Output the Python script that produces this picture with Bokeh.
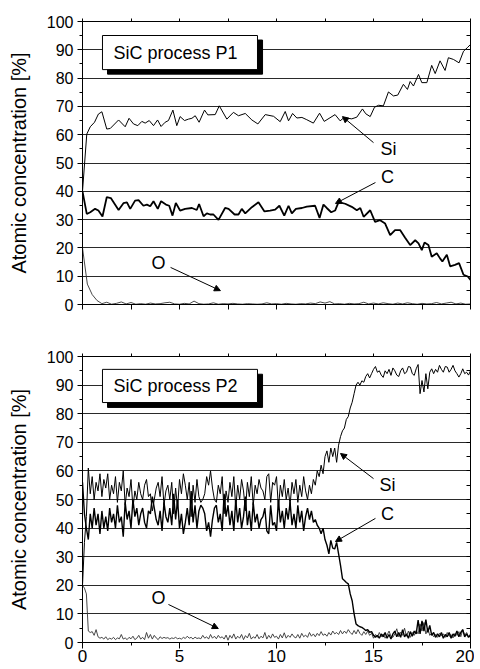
from bokeh.plotting import figure
from bokeh.layouts import column
from bokeh.models import (SingleIntervalTicker, FixedTicker, LinearAxis, Range1d, Label, Arrow,
                          NormalHead, BoxAnnotation, Grid)
from bokeh.embed import file_html
from bokeh.resources import INLINE

FONT = "Liberation Sans"

# ---------------- Panel P1 ----------------
si1_x = [0.0, 0.22, 0.4, 0.62, 0.82, 1.0, 1.25, 1.43, 1.86, 2.2, 2.4, 2.63, 2.85, 3.06, 3.23,
         3.44, 3.66, 3.87, 4.05, 4.26, 4.43, 4.66, 4.86, 5.03, 5.26, 5.46, 5.64, 5.81, 6.01,
         6.29, 6.46, 6.84, 7.05, 7.44, 7.78, 8.04, 8.39, 8.73, 9.04, 9.42, 9.85, 10.19, 10.45,
         10.62, 10.83, 11.05, 11.31, 11.56, 11.9, 12.22, 12.46, 13.02, 13.28, 13.47, 13.88,
         14.14, 14.43, 14.6, 14.83, 15.05, 15.26, 15.51, 15.77, 16.03, 16.25, 16.54, 16.75,
         16.89, 17.06, 17.32, 17.49, 17.75, 18.0, 18.18, 18.43, 18.69, 18.86, 19.12, 19.41,
         19.64, 19.86, 20.0]
si1_y = [40, 60.2, 62.8, 64.4, 67.3, 68.1, 62, 62.2, 65.2, 62.8, 65.8, 63.8, 63.2, 64.7, 64.1,
         65, 63.2, 65.2, 62.9, 64.4, 65, 68.7, 63.2, 66.4, 65, 65.5, 65.8, 66.7, 64.4,
         68.7, 67, 67.1, 70.2, 65.5, 67.9, 66.7, 67.5, 65.2, 63.8, 67.1, 66.5, 64.6, 68.2,
         64.9, 67.5, 65.9, 66.1, 65.3, 64.1, 67.6, 64.7, 67.1, 64.9, 66, 65.6,
         66.2, 69.1, 67.4, 66.4, 69.7, 70.4, 70.2, 75.1, 73.7, 74.0, 77.8, 76.0,
         78.8, 77.2, 81.3, 78.4, 78.4, 84.5, 81.6, 86.1, 82.7, 87.2, 86.6, 85.4,
         89.5, 90.9, 91.9]

c1_x = [0.0, 0.22, 0.4, 0.65, 0.82, 1.03, 1.25, 1.46, 1.86, 2.11, 2.29, 2.46, 2.71, 2.89, 3.14,
        3.32, 3.49, 3.66, 3.88, 4.05, 4.3, 4.47, 4.64, 4.81, 5.03, 5.29, 5.64, 5.89, 6.01,
        6.24, 6.41, 6.58, 6.75, 7.01, 7.35, 7.53, 7.84, 8.04, 8.21, 8.39, 8.73, 9.07, 9.38,
        9.67, 9.93, 10.15, 10.4, 10.62, 10.79, 11.0, 11.31, 11.56, 11.99, 12.22, 12.42,
        12.59, 12.82, 13.02, 13.2, 13.54, 13.88, 14.14, 14.32, 14.49, 14.83, 15.08, 15.34,
        15.6, 15.86, 16.11, 16.37, 16.63, 16.89, 17.15, 17.32, 17.49, 17.63, 17.83, 18.0,
        18.26, 18.43, 18.55, 18.78, 18.95, 19.2, 19.41, 19.64, 19.86, 20.0]
c1_y = [40, 32, 32.6, 33.8, 33.2, 31.1, 37.9, 37.6, 33.4, 35.8, 36.1, 33.8, 36.7, 36.9, 34.9,
        35.3, 34.7, 36.5, 33.8, 36.5, 35.3, 34.9, 31.4, 35.9, 33.2, 33.8, 34.1, 33.4, 35.5,
        31.2, 32.2, 31.8, 31.8, 29.9, 34.1, 33.8, 31.8, 31.8, 33.8, 32.2, 34.4, 36.1, 32.9,
        33.2, 33.5, 34.9, 31.4, 34.9, 32.2, 33.8, 34.1, 34.6, 34.9, 30.6, 35.3,
        34.1, 32.6, 33.2, 36.2, 35.6, 34.5, 33.3, 34.1, 31.0, 33.3, 29.2, 29.8,
        28.6, 24.5, 26.3, 26.3, 23.6, 21.0, 22.7, 21.6, 19.2, 21.9, 21.0, 16.9,
        18.1, 16.3, 15.2, 17.6, 13.5, 14.0, 14.6, 10.5, 9.9, 8.7]

o1_x = [i * 0.25 for i in range(81)]
o1_y = [20, 7.2, 3.5, 1.4, 0.3, 0.8, 0.1, 0.4,
        0.9, 0.2, 0.7, 0.1, 0.3, 0.1, 0.5, 0.2,
        0.3, 0.6, 0.8, 0.2, 0.1, 0.4, 0.2, 1.2,
        0.3, 0.1, 0.2, 0.6, 0.1, 0.3, 0.2, 0.4,
        0.2, 0.1, 0.3, 0.2, 0.1, 0.2, 0.6, 0.2,
        0.3, 0.1, 0.4, 0.2, 0.1, 0.3, 0.2, 0.5,
        0.3, 0.9, 0.5, 1.0, 0.2, 0.3, 0.1, 0.4,
        0.2, 0.3, 0.8, 0.2, 0.5, 0.2, 0.6, 0.3,
        0.1, 0.5, 0.2, 0.6, 0.3, 0.1, 0.4, 0.2,
        0.3, 0.7, 0.2, 0.5, 0.8, 0.2, 0.5, 0.1,
        0.2]

# ---------------- Panel P2 ----------------
p2_x = [round(i * 0.1, 1) for i in range(201)]
si2_y = [20, 35, 44, 61, 52, 58, 50, 56, 53, 59,
         51, 57, 54, 59, 50, 55, 52, 58, 49, 56,
         53, 60, 48, 54, 51, 57, 47, 53, 50, 56,
         52, 50, 55, 57, 51, 52, 46, 50, 54, 56,
         51, 58, 48, 53, 55, 50, 56, 45, 54, 47,
         57, 52, 59, 55, 50, 56, 44, 55, 49, 57,
         51, 49, 50, 52, 58, 55, 60, 54, 50, 49,
         55, 52, 58, 45, 53, 49, 56, 51, 58, 47,
         55, 50, 57, 53, 46, 56, 51, 58, 48, 55,
         52, 57, 54, 53, 50, 58, 59, 49, 56, 55,
         58, 47, 55, 51, 57, 50, 54, 48, 56, 52,
         57, 49, 55, 51, 58, 53, 50, 55, 52, 57,
         55, 60, 58, 62, 59, 65, 67, 63, 68, 65,
         68, 63, 69, 72, 74, 75, 78, 79, 82, 84,
         87, 90, 91, 90, 91.5, 91, 93, 94, 92.5, 94,
         95.5, 96.5, 94.5, 95, 93.5, 92.7, 95, 94, 95.5, 93.4,
         96, 95, 93.5, 93, 95, 96, 94, 94.5, 96.5, 96.3,
         94, 93.4, 95.7, 97.2, 87, 91.6, 87.6, 94, 88.7, 94.5,
         95.7, 94, 95.5, 94.5, 96.9, 95.5, 94.5, 96.5, 96.3, 94.5,
         95.5, 96.9, 95, 94, 92.8, 94, 95.7, 94, 94.5, 93.5,
         95]
c2_y = [56, 45, 40, 36, 45, 40, 47, 41, 45, 38,
        46, 40, 44, 39, 47, 42, 45, 40, 48, 42,
        44, 37, 49, 43, 46, 40, 50, 44, 47, 41,
        45, 47, 42, 40, 46, 45, 51, 47, 43, 41,
        46, 39, 49, 44, 42, 47, 41, 52, 43, 50,
        40, 45, 38, 42, 47, 41, 53, 42, 48, 40,
        46, 48, 47, 45, 39, 42, 37, 43, 47, 48,
        42, 45, 39, 52, 44, 48, 41, 46, 39, 50,
        42, 47, 40, 44, 51, 41, 46, 39, 49, 42,
        45, 40, 43, 44, 47, 39, 38, 48, 41, 42,
        39, 50, 42, 46, 40, 47, 43, 49, 41, 45,
        40, 48, 42, 46, 39, 44, 47, 43, 46, 42,
        43, 41, 40, 38, 40, 36, 34, 31, 35.7, 33,
        32.7, 35, 31, 27, 22.3, 21.7, 21, 20.5, 17, 14.6,
        10, 6.5, 5.9, 5.5, 5.3, 4.8, 4.2, 4.5, 3.6, 3.8,
        2.5, 1.8, 2.5, 1.5, 3, 2, 3.5, 1.5, 2.8, 1.2,
        3, 4, 2, 3.5, 1.8, 4.5, 2, 3, 1.5, 3.8,
        2.2, 4, 3, 7.8, 3, 7.6, 4, 8, 3.5, 6,
        2.5, 3.5, 1.8, 3, 2, 3.5, 1.5, 2.8, 2, 3.5,
        1.5, 3, 2.2, 4, 2, 3.5, 4.5, 2, 3, 1.8,
        2.5]
o2_y = [20, 19, 17, 4, 3.5, 3.8, 2.5, 4.5, 2, 1.5,
        1.8, 1.2, 2, 1, 1.5, 1.2, 1.8, 1, 1.6, 1.3,
        2.8, 1.2, 1.6, 1, 1.8, 1.3, 2.2, 1, 1.5, 2.5,
        1.2, 1.8, 1, 3.5, 1.5, 2.8, 1.2, 2.5, 1.6, 1,
        2, 1.4, 1.8, 1.5, 1.7, 1.2, 1.6, 1.4, 1.8, 1.3,
        1.5, 1.2, 1.8, 1.4, 2.2, 1.5, 1.8, 1.2, 1.9, 1.4,
        1.6, 1.3, 2.5, 1.5, 2, 1.2, 2.8, 1.5, 2.2, 1.3,
        2.5, 1.6, 2, 1.2, 2.6, 0.8, 2.5, 1.5, 3, 1.2,
        2.2, 1.5, 2.8, 1, 2.4, 1.6, 3.2, 1.2, 2, 1.5,
        2.8, 1.3, 2.2, 1.6, 3.5, 1.2, 2.5, 1.5, 3, 1.8,
        2.2, 1.2, 2.8, 1.6, 3.4, 1.5, 2.5, 1.8, 3, 2,
        1.6, 2.8, 1.5, 3.2, 2, 2.6, 1.8, 3.5, 2.2, 3,
        2, 3.2, 2.4, 3.8, 2.5, 3, 2.2, 3.5, 2.6, 4,
        3, 3.5, 2.8, 4.2, 3, 4, 3.2, 4.5, 3.5, 2.8,
        4.2, 3, 4.5, 3.2, 2.5, 3.8, 2.8, 4, 2.5, 3.2,
        1.5, 2.8, 1.8, 3.5, 2, 3, 1.5, 2.6, 4, 2.2,
        1.8, 3, 4.8, 2, 3.6, 2.5, 5, 2.2, 4, 1.8,
        3.5, 2.5, 4.2, 3, 6.5, 4, 7, 3, 5, 2.5,
        3.2, 2, 2.8, 1.8, 3.2, 2.4, 3, 1.8, 3.5, 2.2,
        2.8, 1.6, 3.2, 2.5, 3.8, 2, 4.5, 2.5, 3.5, 2,
        3]

panel_titles = ["SiC process P1", "SiC process P2"]
y_label = "Atomic concentration [%]"
x_tick_labels_shown = [False, True]
x_tick_marks = [0, 2.5, 5, 7.5, 10, 12.5, 15, 17.5, 20]
y_tick_marks = [0, 5, 10, 15, 20, 25, 30, 35, 40, 45, 50, 55, 60, 65, 70, 75, 80, 85, 90, 95, 100]


def bare_axis(ticks, out_len, in_len):
    ax = LinearAxis(ticker=FixedTicker(ticks=[], minor_ticks=ticks))
    ax.major_tick_out = 0
    ax.major_tick_in = 0
    ax.minor_tick_out = out_len
    ax.minor_tick_in = in_len
    ax.major_label_standoff = 0
    ax.axis_line_color = "black"
    ax.minor_tick_line_color = "black"
    return ax


def make_panel(title, series, show_x_labels, height, b_top, b_bottom, geo):
    p = figure(width=474, height=height,
               x_range=Range1d(0, 20), y_range=Range1d(0, 100),
               output_backend="svg", toolbar_location=None,
               x_axis_location=None, y_axis_location=None,
               min_border_left=82, min_border_right=4,
               min_border_top=b_top, min_border_bottom=b_bottom,
               background_fill_color="white", border_fill_color="white")
    p.outline_line_color = "black"
    p.outline_line_width = 1
    for g in list(p.center):
        if isinstance(g, Grid):
            g.visible = False

    if show_x_labels:
        xb = LinearAxis(ticker=SingleIntervalTicker(interval=5, num_minor_ticks=2))
        xb.major_tick_out = 6
        xb.major_tick_in = 0
        xb.minor_tick_out = 3
        xb.minor_tick_in = 0
        xb.major_label_text_font = FONT
        xb.major_label_text_color = "black"
        xb.major_label_standoff = 1
        xb.major_label_text_font_size = "17px"
    else:
        xb = bare_axis(x_tick_marks, 5, 0)
    p.add_layout(xb, "below")

    yl = LinearAxis(ticker=SingleIntervalTicker(interval=10, num_minor_ticks=2),
                    axis_label=y_label)
    yl.major_tick_out = 5
    yl.major_tick_in = 0
    yl.minor_tick_out = 3
    yl.minor_tick_in = 0
    yl.major_label_text_font = FONT
    yl.major_label_text_font_size = "16px"
    yl.major_label_text_color = "black"
    yl.major_label_standoff = 4
    yl.axis_label_text_font = FONT
    yl.axis_label_text_font_size = "20px"
    yl.axis_label_text_font_style = "normal"
    yl.axis_label_text_color = "black"
    yl.axis_label_standoff = 14
    p.add_layout(yl, "left")

    p.add_layout(bare_axis(y_tick_marks, 0, 4), "right")
    p.add_layout(bare_axis(x_tick_marks, 3, 0), "above")

    grid = Grid(dimension=1, ticker=SingleIntervalTicker(interval=10))
    grid.grid_line_color = "#2a2a2a"
    grid.grid_line_width = 1
    p.add_layout(grid)

    (sx, sy), (cx, cy), (ox, oy) = series
    p.line(ox, oy, line_color="#333333", line_width=0.9)
    p.line(sx, sy, line_color="black", line_width=1)
    p.line(cx, cy, line_color="black", line_width=geo["c_width"])

    # title box with drop shadow
    p.add_layout(BoxAnnotation(left=geo["box"][0] + geo["sh"][0], right=geo["box"][1] + geo["sh"][0],
                               top=geo["box"][2] - geo["sh"][1], bottom=geo["box"][3] - geo["sh"][1],
                               fill_color="black", fill_alpha=1, line_color="black", line_alpha=1))
    p.add_layout(BoxAnnotation(left=geo["box"][0], right=geo["box"][1],
                               top=geo["box"][2], bottom=geo["box"][3],
                               fill_color="white", fill_alpha=1, line_color="black",
                               line_alpha=1, line_width=1))
    p.add_layout(Label(x=geo["title_xy"][0], y=geo["title_xy"][1], text=title,
                       text_font=FONT, text_font_size="18px", text_color="black",
                       text_align="left", text_baseline="middle"))

    for name, (lx, ly), (x0, y0, x1, y1) in geo["labels"]:
        p.add_layout(Label(x=lx, y=ly, text=name, text_font=FONT, text_font_size="18px",
                           text_color="black", text_align="center", text_baseline="middle"))
        p.add_layout(Arrow(x_start=x0, y_start=y0, x_end=x1, y_end=y1, line_width=1,
                           line_color="black",
                           end=NormalHead(size=6, fill_color="black", line_color="black",
                                          line_width=1)))
    return p


geo1 = dict(box=(1.03, 9.02, 95.05, 83.0), sh=(0.26, 1.6), title_xy=(1.6, 89.0), c_width=1.8,
            labels=[("O", (3.92, 14.8), (4.54, 13.1, 7.11, 4.9)),
                    ("Si", (15.77, 55.1), (15.0, 57.2, 13.4, 66.4)),
                    ("C", (15.72, 44.9), (15.1, 43.1, 13.04, 35.7))])
geo2 = dict(box=(1.03, 9.02, 95.5, 83.9), sh=(0.26, 1.7), title_xy=(1.6, 89.7), c_width=1.4,
            labels=[("O", (3.92, 15.4), (4.43, 13.3, 7.0, 4.9)),
                    ("Si", (15.72, 54.9), (15.0, 57.3, 13.3, 66.1)),
                    ("C", (15.72, 45.1), (15.1, 43.4, 13.04, 35.3))])

p1 = make_panel(panel_titles[0], [(si1_x, si1_y), (c1_x, c1_y), (o1_x, o1_y)],
                x_tick_labels_shown[0], 324, 21, 20, geo1)
p2 = make_panel(panel_titles[1], [(p2_x, si2_y), (p2_x, c2_y), (p2_x, o2_y)],
                x_tick_labels_shown[1], 343, 32, 25, geo2)

layout = column(p1, p2, spacing=0)
open("out.html", "w").write(file_html(layout, INLINE))
